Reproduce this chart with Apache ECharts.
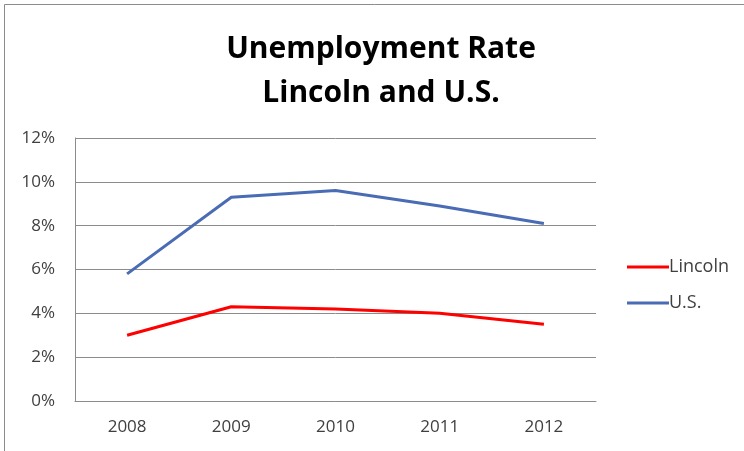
<!DOCTYPE html>
<html><head><meta charset="utf-8">
<script src="https://cdn.jsdelivr.net/npm/echarts@6/dist/echarts.min.js"></script>
<style>html,body{margin:0;padding:0;background:#fff}#c{width:744px;height:451px}</style>
</head><body><div id="c"></div>
<script>
const categories = ['2008','2009','2010','2011','2012'];
const lincoln = [3.0, 4.3, 4.2, 4.0, 3.5];
const us = [5.8, 9.3, 9.6, 8.9, 8.1];
const yTicks = [0, 2, 4, 6, 8, 10, 12];

const chart = echarts.init(document.getElementById('c'));
const font = '"Open Sans", "Liberation Sans", sans-serif';
chart.setOption({
  animation: false,
  backgroundColor: '#fff',
  graphic: [{
    type: 'rect', shape: {x: 4.5, y: 4.5, width: 760, height: 460},
    style: {fill: 'none', stroke: '#8c8c8c', lineWidth: 1}, silent: true
  }],
  title: {
    text: 'Unemployment Rate\nLincoln and U.S.',
    left: 376, top: 22, textAlign: 'center',
    textStyle: {fontFamily: font, fontWeight: 'bold', fontSize: 30, lineHeight: 44, color: '#000'}
  },
  legend: {
    orient: 'vertical', left: 622, top: 250, itemWidth: 42, itemHeight: 3, itemGap: 12,
    icon: 'rect',
    textStyle: {fontFamily: font, fontSize: 18, lineHeight: 24, color: '#404040', padding: [0,0,0,-5]},
    data: ['Lincoln', 'U.S.']
  },
  grid: {left: 75, right: 148, top: 138, bottom: 50},
  xAxis: {
    type: 'category', data: categories, boundaryGap: true,
    axisLine: {lineStyle: {color: '#8c8c8c', width: 1}},
    axisTick: {show: false},
    axisLabel: {fontFamily: font, fontSize: 17, color: '#404040', margin: 18}
  },
  yAxis: {
    type: 'value', min: 0, max: 12, interval: 2,
    axisLine: {show: true, lineStyle: {color: '#8c8c8c', width: 1}},
    axisTick: {show: false},
    splitLine: {lineStyle: {color: '#8c8c8c', width: 1}},
    axisLabel: {fontFamily: font, fontSize: 17, color: '#404040', margin: 20,
      formatter: v => yTicks.includes(v) ? v + '%' : ''}
  },
  series: [
    {name: 'Lincoln', type: 'line', data: lincoln, symbol: 'none', lineStyle: {color: '#ff0000', width: 3}, itemStyle: {color: '#ff0000'}},
    {name: 'U.S.', type: 'line', data: us, symbol: 'none', lineStyle: {color: '#4a6cb4', width: 3}, itemStyle: {color: '#4a6cb4'}}
  ]
});
</script></body></html>
